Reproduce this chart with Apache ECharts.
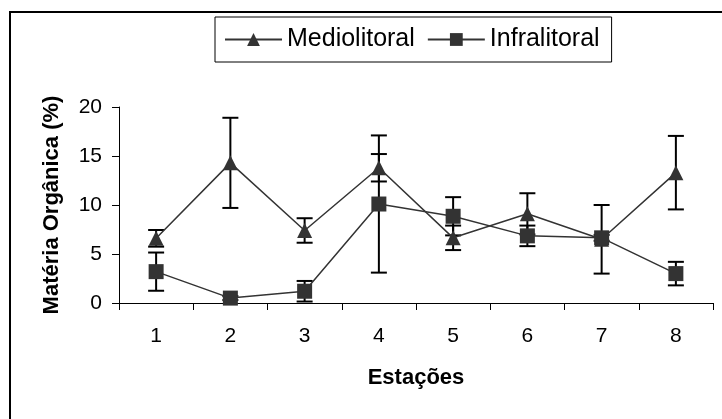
<!DOCTYPE html>
<html>
<head>
<meta charset="utf-8">
<script src="https://cdn.jsdelivr.net/npm/echarts@6/dist/echarts.min.js"></script>
<style>html,body{margin:0;padding:0;background:#fff;}#c{width:722px;height:419px;}</style>
</head>
<body>
<div id="c"></div>
<script>
const categories = ['1', '2', '3', '4', '5', '6', '7', '8'];
const medioMean = [6.6, 14.3, 7.4, 13.8, 6.65, 9.1, 6.5, 13.3];
const medioErr = [0.85, 4.6, 1.25, 1.4, 1.25, 2.1, 3.5, 3.75];
const infraMean = [3.2, 0.5, 1.2, 10.1, 8.85, 6.85, 6.65, 3.0];
const infraErr = [1.95, 0.2, 1.05, 7.0, 1.95, 1.05, 0.3, 1.2];
const yTicks = [0, 5, 10, 15, 20];

const FONT = 'Liberation Sans, Arial, sans-serif';
const chart = echarts.init(document.getElementById('c'), null, {renderer: 'canvas'});

function errData(mean, err) {
  return mean.map((m, i) => [i, m, err[i]]);
}
function errRender(params, api) {
  const i = api.value(0), m = api.value(1), e = api.value(2);
  const top = api.coord([i, m + e]);
  const bot = api.coord([i, m - e]);
  const hw = 8;
  const st = {stroke: '#000', lineWidth: 2};
  return {
    type: 'group',
    children: [
      {type: 'line', shape: {x1: top[0], y1: top[1], x2: bot[0], y2: bot[1]}, style: st},
      {type: 'line', shape: {x1: top[0] - hw, y1: top[1], x2: top[0] + hw, y2: top[1]}, style: st},
      {type: 'line', shape: {x1: bot[0] - hw, y1: bot[1], x2: bot[0] + hw, y2: bot[1]}, style: st}
    ]
  };
}

const option = {
  animation: false,
  backgroundColor: '#fff',
  textStyle: {fontFamily: FONT},
  graphic: [{
    type: 'rect', z: 100, silent: true,
    shape: {x: 10, y: 12, width: 716, height: 420},
    style: {fill: 'none', stroke: '#000', lineWidth: 2}
  }],
  legend: {
    left: 215, top: 17,
    padding: [10, 12, 10, 9],
    itemGap: 12,
    itemWidth: 57,
    itemHeight: 16,
    borderColor: '#000', borderWidth: 1,
    backgroundColor: '#fff',
    textStyle: {fontSize: 25, color: '#000', fontFamily: FONT},
    data: ['Mediolitoral', 'Infralitoral']
  },
  grid: {left: 119, right: 9, top: 107, bottom: 116},
  xAxis: {
    type: 'category',
    data: categories,
    name: 'Estações',
    nameLocation: 'middle',
    nameGap: 64,
    nameTextStyle: {fontSize: 22, fontWeight: 'bold', color: '#000', fontFamily: FONT},
    axisLine: {lineStyle: {color: '#000', width: 1}},
    axisTick: {show: true, inside: false, length: 7, lineStyle: {color: '#000'}},
    axisLabel: {fontSize: 21, color: '#000', margin: 23, fontFamily: FONT},
    splitLine: {show: false}
  },
  yAxis: {
    type: 'value',
    min: yTicks[0], max: yTicks[yTicks.length - 1], interval: yTicks[1] - yTicks[0],
    name: 'Matéria Orgânica (%)',
    nameLocation: 'middle',
    nameRotate: 90,
    nameGap: 56,
    nameTextStyle: {fontSize: 22, fontWeight: 'bold', color: '#000', fontFamily: FONT},
    axisLine: {show: true, lineStyle: {color: '#000', width: 1}},
    axisTick: {show: true, inside: false, length: 7, lineStyle: {color: '#000'}},
    axisLabel: {fontSize: 21, color: '#000', margin: 17, fontFamily: FONT},
    splitLine: {show: false}
  },
  series: [
    {
      type: 'custom', name: 'errMedio', z: 1,
      renderItem: errRender, data: errData(medioMean, medioErr)
    },
    {
      type: 'custom', name: 'errInfra', z: 1,
      renderItem: errRender, data: errData(infraMean, infraErr)
    },
    {
      type: 'line', name: 'Mediolitoral', z: 3,
      data: medioMean,
      symbol: 'triangle', symbolSize: 15,
      lineStyle: {color: '#333', width: 1.5},
      itemStyle: {color: '#333'}
    },
    {
      type: 'line', name: 'Infralitoral', z: 3,
      data: infraMean,
      symbol: 'rect', symbolSize: 15,
      lineStyle: {color: '#333', width: 1.5},
      itemStyle: {color: '#333'}
    }
  ]
};
chart.setOption(option);
</script>
</body>
</html>
